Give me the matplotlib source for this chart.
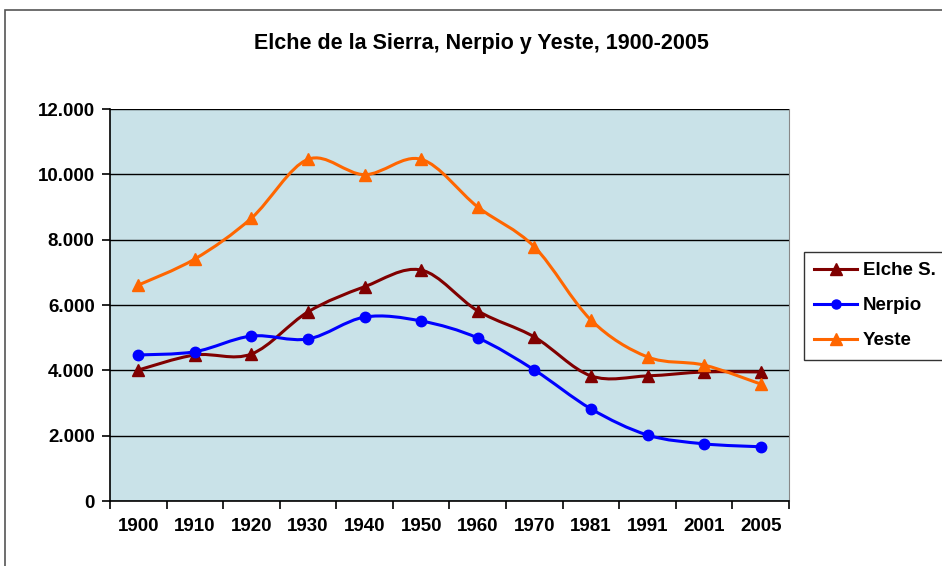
import numpy as np
import matplotlib.pyplot as plt
from matplotlib.path import Path
from matplotlib.patches import PathPatch, Rectangle
from matplotlib.lines import Line2D
from matplotlib.ticker import FuncFormatter

plt.rcParams['font.family'] = ['Liberation Sans', 'DejaVu Sans']

years = ['1900', '1910', '1920', '1930', '1940', '1950', '1960', '1970', '1981', '1991', '2001', '2005']
elche = [4010, 4470, 4500, 5790, 6560, 7070, 5820, 5020, 3830, 3830, 3950, 3950]
nerpio = [4470, 4570, 5050, 4960, 5630, 5510, 4990, 4010, 2820, 2020, 1750, 1660]
yeste = [6610, 7410, 8660, 10460, 9990, 10460, 9000, 7780, 5540, 4410, 4160, 3580]

series = [
    ('Elche S.', elche, '#800000', '^', 9),
    ('Nerpio', nerpio, '#0000FF', 'o', 7.5),
    ('Yeste', yeste, '#FF6600', '^', 9),
]


def smooth_path(x, y):
    # excel-like smoothed line: cubic bezier through the points
    pts = np.column_stack([x, y]).astype(float)
    n = len(pts)
    verts = [pts[0]]
    codes = [Path.MOVETO]
    for i in range(n - 1):
        p0 = pts[i - 1] if i > 0 else pts[i]
        p1 = pts[i]
        p2 = pts[i + 1]
        p3 = pts[i + 2] if i + 2 < n else pts[i + 1]
        c1 = p1 + (p2 - p0) / 6.0
        c2 = p2 - (p3 - p1) / 6.0
        verts += [c1, c2, p2]
        codes += [Path.CURVE4] * 3
    return Path(verts, codes)


fig = plt.figure(figsize=(9.42, 5.66), dpi=100)
fig.patch.set_facecolor('white')

# outer chart frame
fig.add_artist(Rectangle((5 / 942, -0.1), 1.2, 1 - 10 / 566 + 0.1, transform=fig.transFigure,
                         fill=False, edgecolor='#555555', linewidth=1.2))

ax = fig.add_axes([110 / 942, 1 - 501 / 566, 679 / 942, 392 / 566])
ax.set_facecolor('#C9E2E8')

x = np.arange(len(years))
handles = []
for name, vals, col, mk, ms in series:
    ax.add_patch(PathPatch(smooth_path(x, vals), facecolor='none', edgecolor=col,
                           linewidth=2.2, zorder=3))
    ax.plot(x, vals, linestyle='none', marker=mk, markersize=ms, color=col, zorder=4)
    handles.append(Line2D([], [], color=col, linewidth=2.2, marker=mk, markersize=ms - 1))

ax.set_xlim(-0.5, len(years) - 0.5)
ax.set_ylim(0, 12000)
ax.set_yticks(np.arange(0, 12001, 2000))
ax.yaxis.set_major_formatter(FuncFormatter(lambda v, p: f'{int(v):,}'.replace(',', '.')))
ax.grid(axis='y', color='black', linewidth=1.0, zorder=1)

ax.set_xticks(x)
ax.set_xticklabels(years)
ax.set_xticks(np.arange(-0.5, len(years), 1), minor=True)
ax.tick_params(axis='x', which='major', length=0, pad=12)
ax.tick_params(axis='x', which='minor', length=6, width=1.2, direction='out')
ax.tick_params(axis='y', length=6, width=1.2, direction='out', pad=5)
for lab in ax.get_xticklabels() + ax.get_yticklabels():
    lab.set_fontsize(13.5)
    lab.set_fontweight('bold')

ax.spines['left'].set_color('black')
ax.spines['left'].set_linewidth(1.2)
ax.spines['bottom'].set_color('black')
ax.spines['bottom'].set_linewidth(1.2)
ax.spines['right'].set_color('#888888')
ax.spines['top'].set_visible(False)

fig.text(481 / 942, 1 - 44 / 566, 'Elche de la Sierra, Nerpio y Yeste, 1900-2005',
         ha='center', va='center', fontsize=15.5, fontweight='bold')

leg = fig.legend(handles, [s[0] for s in series], loc='upper left',
                 bbox_to_anchor=(804 / 942, 1 - 252 / 566), frameon=True, fancybox=False,
                 prop={'size': 13.5, 'weight': 'bold'}, handlelength=2.3, handletextpad=0.3,
                 labelspacing=0.95, borderpad=0.55, borderaxespad=0)
leg.get_frame().set_edgecolor('black')
leg.get_frame().set_linewidth(1.0)

fig.savefig('out.png', dpi=100)
